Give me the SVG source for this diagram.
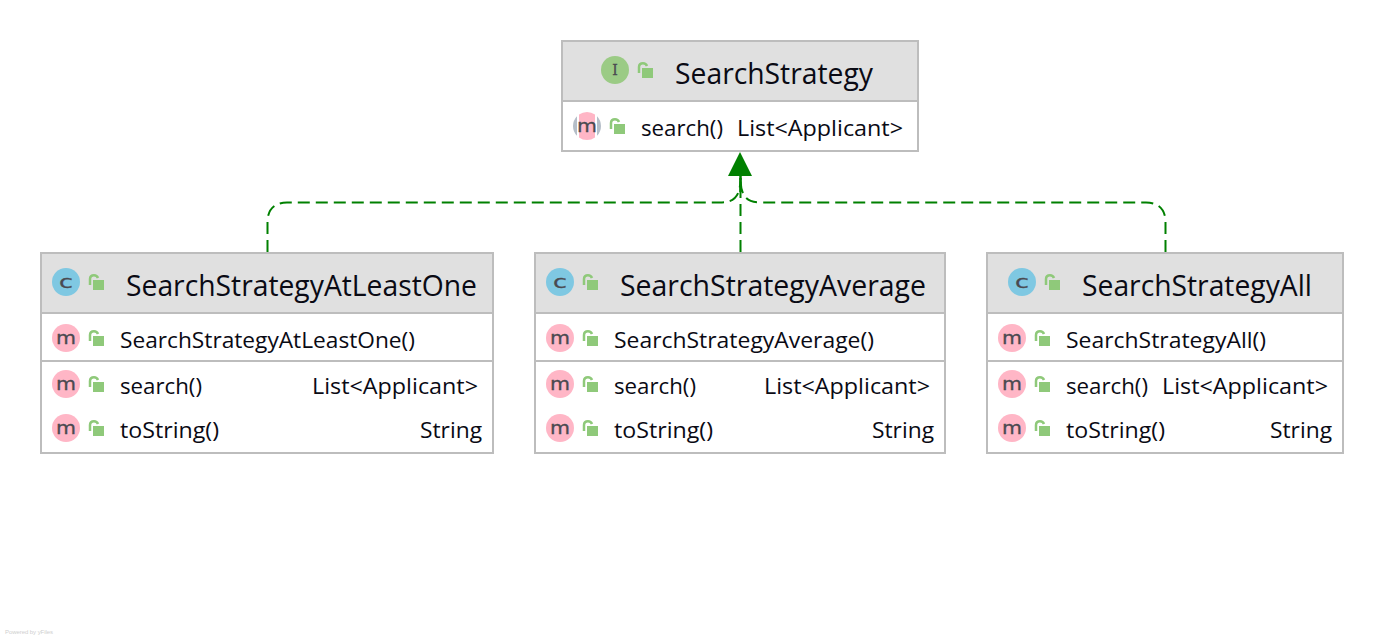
<svg xmlns="http://www.w3.org/2000/svg" width="1384" height="640" viewBox="0 0 1384 640">
<style>
text{font-family:"Open Sans","Noto Sans","Liberation Sans",sans-serif;fill:#0a0a14}
.t{font-size:28.500px}
.m{font-size:22px}
.g{font-family:"DejaVu Sans",sans-serif;font-size:18px;fill:#4a4a50;stroke:#4a4a50;stroke-width:.3;text-anchor:middle}
.box{fill:#fff;stroke:#bdbdbd;stroke-width:2}
.hd{fill:#e0e0e0}
.sep{stroke:#bdbdbd;stroke-width:2;fill:none}
.c{fill:#7fc8e2}.i{fill:#9bcb85}.mm{fill:#ffb6c6}
.lf{fill:#8fc97a}.ls{fill:none;stroke:#8fc97a;stroke-width:2.500}
.e{fill:none;stroke:#008000;stroke-width:2;stroke-dasharray:12 6}
</style>
<defs>
<g id="lock"><rect x="5" y="6" width="11" height="10" class="lf"/><path d="M2,11V5Q2,1.200 6,1.200Q9,1.200 10,4" class="ls"/></g>
</defs>
<g id="edges">
<path class="e" d="M267.500,252V222C267.500,209 275,202.500 287,202.500H720C733,202.500 740.500,198 740.500,178"/>
<path class="e" d="M740.500,252V178"/>
<path class="e" d="M1165.500,252V222C1165.500,209 1158,202.500 1146,202.500H761C748,202.500 740.500,198 740.500,178"/>
<path d="M740.500,174V192" stroke="#008000" stroke-width="2.500" fill="none"/>
<path d="M740,152L752,176H728Z" fill="#008000"/>
</g>
<g id="SearchStrategy">
<rect class="box" x="562" y="41" width="356" height="110"/>
<rect class="hd" x="563" y="42" width="354" height="59"/>
<path class="sep" d="M562,101H918"/>
<circle class="i" cx="615" cy="70" r="14"/><text class="g" x="615" y="75" style="font-size:14px;font-family:'DejaVu Serif',serif">I</text>
<use href="#lock" x="637" y="62"/>
<text class="t" x="675" y="84" textLength="198" lengthAdjust="spacingAndGlyphs">SearchStrategy</text>
<path d="M577,116.200A14,14 0 0 0 577,135.800ZM597,116.200A14,14 0 0 1 597,135.800Z" fill="#b5bec8"/>
<path class="mm" d="M579,114.500A14,14 0 0 1 595,114.500V137.500A14,14 0 0 1 579,137.500Z"/>
<text class="g" x="587" y="132" textLength="20" lengthAdjust="spacingAndGlyphs">m</text>
<use href="#lock" x="609" y="118"/>
<text class="m" x="641" y="136" textLength="82" lengthAdjust="spacingAndGlyphs">search()</text><text class="m" x="737" y="136" textLength="166" lengthAdjust="spacingAndGlyphs">List&lt;Applicant&gt;</text>
</g>
<g id="SearchStrategyAtLeastOne">
<rect class="box" x="41" y="253" width="452" height="200"/>
<rect class="hd" x="42" y="254" width="450" height="59"/>
<path class="sep" d="M41,313H493M41,361H493"/>
<circle class="c" cx="66" cy="282" r="14"/><text class="g" x="66" y="287.500" textLength="14" lengthAdjust="spacingAndGlyphs">c</text>
<use href="#lock" x="88" y="274"/>
<text class="t" x="126" y="296" textLength="351" lengthAdjust="spacingAndGlyphs">SearchStrategyAtLeastOne</text>
<circle class="mm" cx="66" cy="338" r="14"/><text class="g" x="66" y="344" textLength="20" lengthAdjust="spacingAndGlyphs">m</text><use href="#lock" x="88" y="330"/>
<text class="m" x="120" y="348" textLength="295" lengthAdjust="spacingAndGlyphs">SearchStrategyAtLeastOne()</text>
<circle class="mm" cx="66" cy="384" r="14"/><text class="g" x="66" y="390" textLength="20" lengthAdjust="spacingAndGlyphs">m</text><use href="#lock" x="88" y="376"/>
<text class="m" x="120" y="394" textLength="82" lengthAdjust="spacingAndGlyphs">search()</text><text class="m" x="312" y="394" textLength="166" lengthAdjust="spacingAndGlyphs">List&lt;Applicant&gt;</text>
<circle class="mm" cx="66" cy="428" r="14"/><text class="g" x="66" y="434" textLength="20" lengthAdjust="spacingAndGlyphs">m</text><use href="#lock" x="88" y="420"/>
<text class="m" x="120" y="438" textLength="99" lengthAdjust="spacingAndGlyphs">toString()</text><text class="m" x="420" y="438" textLength="62" lengthAdjust="spacingAndGlyphs">String</text>
</g>
<g id="SearchStrategyAverage">
<rect class="box" x="535" y="253" width="410" height="200"/>
<rect class="hd" x="536" y="254" width="408" height="59"/>
<path class="sep" d="M535,313H945M535,361H945"/>
<circle class="c" cx="560" cy="282" r="14"/><text class="g" x="560" y="287.500" textLength="14" lengthAdjust="spacingAndGlyphs">c</text>
<use href="#lock" x="582" y="274"/>
<text class="t" x="620" y="296" textLength="306" lengthAdjust="spacingAndGlyphs">SearchStrategyAverage</text>
<circle class="mm" cx="560" cy="338" r="14"/><text class="g" x="560" y="344" textLength="20" lengthAdjust="spacingAndGlyphs">m</text><use href="#lock" x="582" y="330"/>
<text class="m" x="614" y="348" textLength="260" lengthAdjust="spacingAndGlyphs">SearchStrategyAverage()</text>
<circle class="mm" cx="560" cy="384" r="14"/><text class="g" x="560" y="390" textLength="20" lengthAdjust="spacingAndGlyphs">m</text><use href="#lock" x="582" y="376"/>
<text class="m" x="614" y="394" textLength="82" lengthAdjust="spacingAndGlyphs">search()</text><text class="m" x="764" y="394" textLength="166" lengthAdjust="spacingAndGlyphs">List&lt;Applicant&gt;</text>
<circle class="mm" cx="560" cy="428" r="14"/><text class="g" x="560" y="434" textLength="20" lengthAdjust="spacingAndGlyphs">m</text><use href="#lock" x="582" y="420"/>
<text class="m" x="614" y="438" textLength="99" lengthAdjust="spacingAndGlyphs">toString()</text><text class="m" x="872" y="438" textLength="62" lengthAdjust="spacingAndGlyphs">String</text>
</g>
<g id="SearchStrategyAll">
<rect class="box" x="987" y="253" width="356" height="200"/>
<rect class="hd" x="988" y="254" width="354" height="59"/>
<path class="sep" d="M987,313H1343M987,361H1343"/>
<circle class="c" cx="1022" cy="282" r="14"/><text class="g" x="1022" y="287.500" textLength="14" lengthAdjust="spacingAndGlyphs">c</text>
<use href="#lock" x="1044" y="274"/>
<text class="t" x="1082" y="296" textLength="230" lengthAdjust="spacingAndGlyphs">SearchStrategyAll</text>
<circle class="mm" cx="1012" cy="338" r="14"/><text class="g" x="1012" y="344" textLength="20" lengthAdjust="spacingAndGlyphs">m</text><use href="#lock" x="1034" y="330"/>
<text class="m" x="1066" y="348" textLength="200" lengthAdjust="spacingAndGlyphs">SearchStrategyAll()</text>
<circle class="mm" cx="1012" cy="384" r="14"/><text class="g" x="1012" y="390" textLength="20" lengthAdjust="spacingAndGlyphs">m</text><use href="#lock" x="1034" y="376"/>
<text class="m" x="1066" y="394" textLength="82" lengthAdjust="spacingAndGlyphs">search()</text><text class="m" x="1162" y="394" textLength="166" lengthAdjust="spacingAndGlyphs">List&lt;Applicant&gt;</text>
<circle class="mm" cx="1012" cy="428" r="14"/><text class="g" x="1012" y="434" textLength="20" lengthAdjust="spacingAndGlyphs">m</text><use href="#lock" x="1034" y="420"/>
<text class="m" x="1066" y="438" textLength="99" lengthAdjust="spacingAndGlyphs">toString()</text><text class="m" x="1270" y="438" textLength="62" lengthAdjust="spacingAndGlyphs">String</text>
</g>
<text x="5" y="634" textLength="48" style="font-size:6px;fill:#cfcfcf;font-family:'Liberation Sans',sans-serif">Powered by yFiles</text>
</svg>
